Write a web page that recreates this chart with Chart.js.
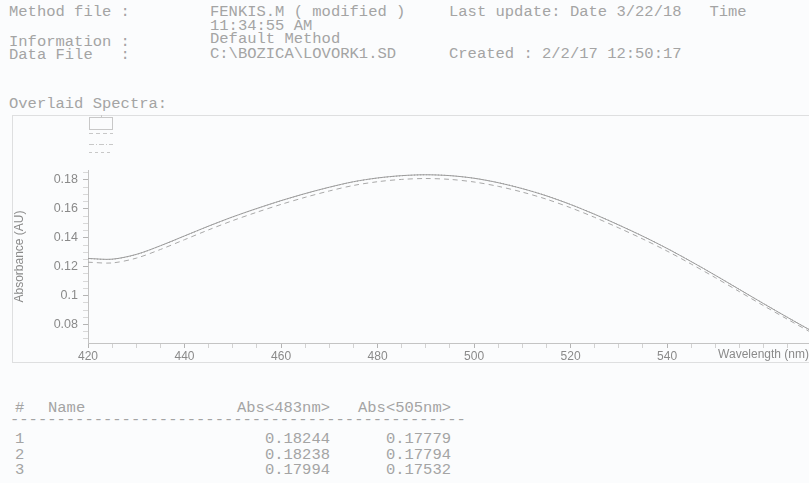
<!DOCTYPE html>
<html>
<head>
<meta charset="UTF-8">
<title>Overlaid Spectra</title>
<script src="https://cdn.jsdelivr.net/npm/chart.js@4.4.1/dist/chart.umd.min.js"></script>
<style>
  * { box-sizing: border-box; margin: 0; padding: 0; }
  html, body { width: 809px; height: 483px; overflow: hidden; }
  body { background: #fbfcfd; position: relative; font-family: 'Liberation Mono', monospace; color: #a4a4a4; }
  .t { position: absolute; font-size: 15.5px; line-height: 16px; white-space: pre; }
  .r { text-align: right; }
  #frame { position: absolute; left: 12px; top: 115px; width: 820px; height: 248px; border: 1px solid #dedfe0; }
  #wrap { position: absolute; left: 12px; top: 115px; width: 797px; height: 248px; }
</style>
</head>
<body>
  <div class="t" style="left:9px; top:4px">Method file :</div>
  <div class="t" style="left:210px; top:4px">FENKIS.M ( modified )</div>
  <div class="t" style="left:449px; top:4px">Last update: Date 3/22/18   Time</div>
  <div class="t" style="left:210px; top:18px">11:34:55 AM</div>
  <div class="t" style="left:9px; top:34px">Information :</div>
  <div class="t" style="left:210px; top:31px">Default Method</div>
  <div class="t" style="left:9px; top:47px">Data File   :</div>
  <div class="t" style="left:210px; top:46px">C:\BOZICA\LOVORK1.SD</div>
  <div class="t" style="left:449px; top:46px">Created : 2/2/17 12:50:17</div>
  <div class="t" style="left:9px; top:96px">Overlaid Spectra:</div>

  <div id="frame"></div>
  <div id="wrap"><canvas id="chart"></canvas></div>

  <div class="t" style="left:15px; top:400px">#</div>
  <div class="t" style="left:48px; top:400px">Name</div>
  <div class="t r" style="left:220px; width:110px; top:400px">Abs&lt;483nm&gt;</div>
  <div class="t r" style="left:341px; width:110px; top:400px">Abs&lt;505nm&gt;</div>
  <div class="t" style="left:10px; top:412px">-------------------------------------------------</div>
  <div id="rows"></div>

<script>
const wavelengths = [420,425,430,435,440,445,450,455,460,465,470,475,480,485,490,495,500,505,510,515,520,525,530,535,540,545,550,555,560,565,570];
const spectrum1 = [0.1257,0.1252,0.1285,0.1345,0.1413,0.1481,0.1545,0.1603,0.1657,0.1706,0.1750,0.1788,0.1814,0.1830,0.1836,0.1830,0.1812,0.1781,0.1740,0.1690,0.1630,0.1562,0.1488,0.1410,0.1326,0.1235,0.1140,0.1042,0.0944,0.0848,0.0754];
const spectrum2 = [0.1256,0.1251,0.1284,0.1344,0.1412,0.1480,0.1544,0.1602,0.1656,0.1705,0.1749,0.1787,0.1813,0.1829,0.1836,0.1830,0.1812,0.1782,0.1741,0.1691,0.1631,0.1563,0.1489,0.1411,0.1327,0.1236,0.1141,0.1043,0.0945,0.0849,0.0755];
const spectrum3 = [0.1231,0.1226,0.1259,0.1319,0.1387,0.1455,0.1519,0.1577,0.1631,0.1680,0.1724,0.1762,0.1788,0.1804,0.1810,0.1804,0.1786,0.1756,0.1716,0.1667,0.1608,0.1541,0.1468,0.1391,0.1308,0.1218,0.1124,0.1027,0.0930,0.0835,0.0742];

const xTickLabels = [420,440,460,480,500,520,540];
const yTickLabels = [0.08,0.1,0.12,0.14,0.16,0.18];

// results table
const sampleNos = ['1','2','3'];
const abs483 = ['0.18244','0.18238','0.17994'];
const abs505 = ['0.17779','0.17794','0.17532'];

const rows = document.getElementById('rows');
sampleNos.forEach((n, i) => {
  const top = 431 + i * 15.5;
  rows.insertAdjacentHTML('beforeend',
    `<div class="t" style="left:15px; top:${top}px">${n}</div>` +
    `<div class="t r" style="left:220px; width:110px; top:${top}px">${abs483[i]}</div>` +
    `<div class="t r" style="left:341px; width:110px; top:${top}px">${abs505[i]}</div>`);
});

const pts = arr => wavelengths.map((w, i) => ({ x: w, y: arr[i] }));
const lineColor = '#9c9c9c';

const chart = new Chart(document.getElementById('chart'), {
  type: 'line',
  data: {
    datasets: [
      { label: '1', data: pts(spectrum1), borderColor: lineColor, borderWidth: 1, pointRadius: 0, tension: 0.3 },
      { label: '2', data: pts(spectrum2), borderColor: lineColor, borderWidth: 1, borderDash: [1, 2], pointRadius: 0, tension: 0.3 },
      { label: '3', data: pts(spectrum3), borderColor: '#a8a8a8', borderWidth: 1, borderDash: [5, 4], pointRadius: 0, tension: 0.3 }
    ]
  },
  options: {
    responsive: true,
    maintainAspectRatio: false,
    animation: false,
    layout: { padding: { top: 55, left: 0, right: 0, bottom: 0 } },
    plugins: { legend: { display: false }, tooltip: { enabled: false } },
    scales: {
      x: {
        type: 'linear',
        min: 420,
        max: 569.4,
        afterFit: s => { s.height = 20; },
        ticks: {
          stepSize: 5,
          autoSkip: false,
          includeBounds: false,
          maxRotation: 0,
          padding: 1,
          color: '#8a8a8a',
          font: { family: 'Liberation Sans', size: 12 },
          callback: v => xTickLabels.includes(v) ? String(v) : ''
        },
        grid: {
          drawOnChartArea: false,
          tickLength: 5,
          tickColor: c => xTickLabels.includes(c.tick && c.tick.value) ? '#b4b4b4' : '#d2d2d2'
        },
        border: { color: '#c4c4c4' }
      },
      y: {
        min: 0.0672,
        max: 0.1869,
        afterFit: s => { s.width = 76; },
        title: {
          display: true,
          text: 'Absorbance (AU)',
          color: '#8a8a8a',
          padding: 0,
          font: { family: 'Liberation Sans', size: 12 }
        },
        ticks: {
          stepSize: 0.005,
          autoSkip: false,
          includeBounds: false,
          padding: 5,
          color: '#8a8a8a',
          font: { family: 'Liberation Sans', size: 12.5 },
          callback: v => {
            const r = Math.round(v * 1000);
            return yTickLabels.some(t => Math.round(t * 1000) === r) ? String(r / 1000) : '';
          }
        },
        grid: {
          drawOnChartArea: false,
          tickLength: 5,
          tickColor: c => {
            const r = c.tick ? Math.round(c.tick.value * 1000) : 0;
            return r % 20 === 0 ? '#b4b4b4' : '#d8d8d8';
          }
        },
        border: { color: '#c4c4c4' }
      }
    }
  },
  plugins: [{
    id: 'decor',
    afterDraw(chart) {
      const { ctx, chartArea } = chart;
      ctx.save();
      // axis title sits on the tick label row, at the right end
      ctx.fillStyle = '#8a8a8a';
      ctx.font = '12px "Liberation Sans"';
      ctx.textAlign = 'right';
      ctx.textBaseline = 'middle';
      ctx.fillText('Wavelength (nm)', chartArea.right, chart.scales.x.top + 12);

      // small legend keys top-left
      const lx = chartArea.left + 1;
      ctx.strokeStyle = '#c8c8c8';
      ctx.lineWidth = 1;
      ctx.strokeRect(lx + 0.5, 2.5, 23, 12);
      ctx.beginPath(); ctx.moveTo(lx + 12.5, 0); ctx.lineTo(lx + 12.5, 2); ctx.stroke();
      ctx.setLineDash([4, 3]);
      ctx.beginPath(); ctx.moveTo(lx, 18.5); ctx.lineTo(lx + 24, 18.5); ctx.stroke();
      ctx.setLineDash([5, 2, 1, 2]);
      ctx.beginPath(); ctx.moveTo(lx, 29.5); ctx.lineTo(lx + 24, 29.5); ctx.stroke();
      ctx.setLineDash([3, 3]);
      ctx.beginPath(); ctx.moveTo(lx, 37.5); ctx.lineTo(lx + 24, 37.5); ctx.stroke();
      ctx.restore();
    }
  }]
});
</script>
</body>
</html>
